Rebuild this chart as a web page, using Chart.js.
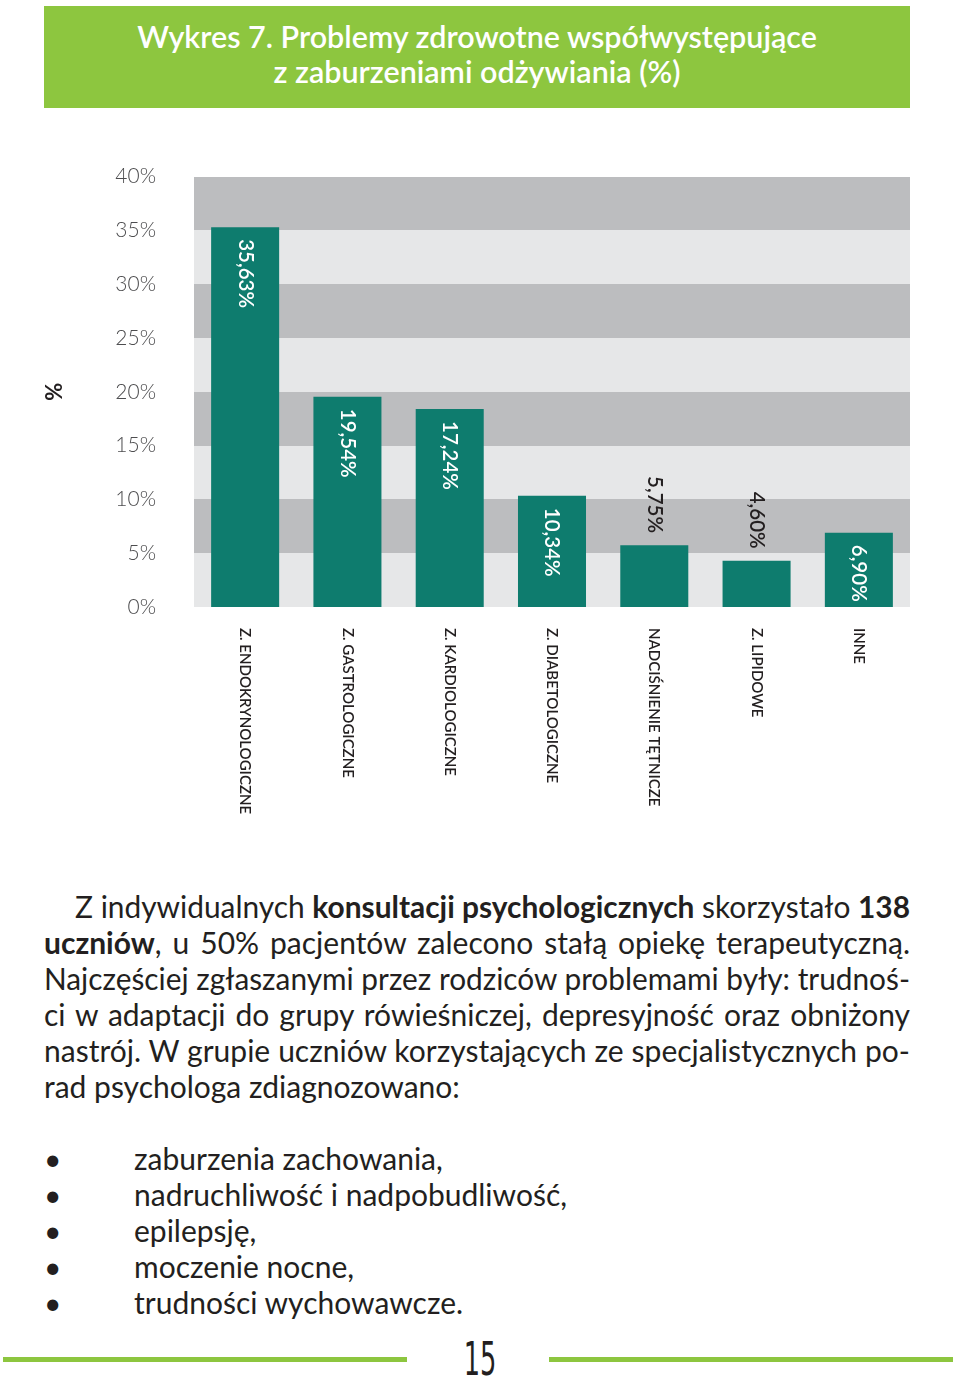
<!DOCTYPE html>
<html>
<head>
<meta charset="utf-8">
<script src="https://cdn.jsdelivr.net/npm/chart.js@4/dist/chart.umd.min.js"></script>
<style>
html,body{margin:0;padding:0;background:#fff;width:960px;height:1378px;overflow:hidden;font-family:Lato,sans-serif;color:#231f20}
#titlebox{position:absolute;left:44px;top:6px;width:866px;height:102px;background:#8dc63f;color:#fff;text-align:center;font-size:30.5px;font-weight:600;line-height:35px;box-sizing:border-box;padding-top:13px}
#chart{position:absolute;left:0;top:126px}
.pl{position:absolute;left:44px;width:866px;font-size:30px;line-height:36px;white-space:nowrap;text-align:justify;text-align-last:justify}
.pl.last{text-align-last:left}
.pl b{font-weight:700}
.bl{position:absolute;left:44px;font-size:30px;line-height:36px;white-space:nowrap}
.bl span.dot{position:absolute;left:0}
.bl span.txt{position:absolute;left:90px}
.gl{position:absolute;height:5px;background:#8dc63f;top:1357px}
#pg{position:absolute;left:440px;width:80px;top:1336px;text-align:center;font-family:'Liberation Sans Narrow','DejaVu Sans Condensed',sans-serif;font-size:46px;line-height:46px;transform:scaleX(0.62);color:#231f20}
</style>
</head>
<body>
<div id="titlebox">Wykres 7. Problemy zdrowotne współwystępujące<br>z zaburzeniami odżywiania (%)</div>
<canvas id="chart" width="960" height="704"></canvas>

<div class="pl" style="top:888px;left:75px;width:835px">Z indywidualnych <b>konsultacji psychologicznych</b> skorzystało <b>138</b></div>
<div class="pl" style="top:924px"><b>uczniów</b>, u 50% pacjentów zalecono stałą opiekę terapeutyczną.</div>
<div class="pl" style="top:960px">Najczęściej zgłaszanymi przez rodziców problemami były: trudnoś-</div>
<div class="pl" style="top:996px">ci w adaptacji do grupy rówieśniczej, depresyjność oraz obniżony</div>
<div class="pl" style="top:1032px">nastrój. W grupie uczniów korzystających ze specjalistycznych po-</div>
<div class="pl last" style="top:1068px">rad psychologa zdiagnozowano:</div>

<div class="bl" style="top:1140px"><span class="dot">•</span><span class="txt">zaburzenia zachowania,</span></div>
<div class="bl" style="top:1176px"><span class="dot">•</span><span class="txt">nadruchliwość i nadpobudliwość,</span></div>
<div class="bl" style="top:1212px"><span class="dot">•</span><span class="txt">epilepsję,</span></div>
<div class="bl" style="top:1248px"><span class="dot">•</span><span class="txt">moczenie nocne,</span></div>
<div class="bl" style="top:1284px"><span class="dot">•</span><span class="txt">trudności wychowawcze.</span></div>

<div class="gl" style="left:3px;width:404px"></div>
<div class="gl" style="left:549px;width:404px"></div>
<div id="pg">15</div>

<script>
const categories = ['Z. ENDOKRYNOLOGICZNE', 'Z. GASTROLOGICZNE', 'Z. KARDIOLOGICZNE', 'Z. DIABETOLOGICZNE', 'NADCIŚNIENIE TĘTNICZE', 'Z. LIPIDOWE', 'INNE'];
const barHeights = [35.3, 19.54, 18.4, 10.34, 5.75, 4.3, 6.9];
const valueLabels = ['35,63%', '19,54%', '17,24%', '10,34%', '5,75%', '4,60%', '6,90%'];
const yTicks = [0, 5, 10, 15, 20, 25, 30, 35, 40];

const BAR = '#0e7c6e', GRAY = '#bcbdbf', LIGHT = '#e6e7e8';

// fit justified lines that are too wide
document.querySelectorAll('.pl').forEach(el => {
  const w = el.clientWidth;
  const r = document.createRange(); r.selectNodeContents(el);
  const tw = r.getBoundingClientRect().width;
  if (tw > w) { el.style.transformOrigin = 'left center'; el.style.transform = 'scaleX(' + (w / tw) + ')'; el.style.textAlignLast = 'left'; }
});

const bandPlugin = {
  id: 'bands',
  beforeDatasetsDraw(chart) {
    const { ctx, chartArea: a, scales: { y } } = chart;
    ctx.save();
    for (let i = 0; i < yTicks.length - 1; i++) {
      const top = Math.round(y.getPixelForValue(yTicks[i + 1]));
      const bot = Math.round(y.getPixelForValue(yTicks[i]));
      ctx.fillStyle = i % 2 ? GRAY : LIGHT;
      ctx.fillRect(a.left, top, a.right - a.left, bot - top);
    }
    ctx.restore();
  }
};

const labelPlugin = {
  id: 'labels',
  afterDatasetsDraw(chart) {
    const { ctx, chartArea: a, scales: { x } } = chart;
    const meta = chart.getDatasetMeta(0);
    ctx.save();
    ctx.font = '600 20.5px Lato';
    ctx.textBaseline = 'middle';
    meta.data.forEach((bar, i) => {
      const txt = valueLabels[i];
      const tw = ctx.measureText(txt).width;
      const h = bar.base - bar.y;
      const inside = h >= tw + 14;
      ctx.save();
      ctx.translate(bar.x, inside ? bar.y + 12 : bar.y - 12 - tw);
      ctx.rotate(Math.PI / 2);
      ctx.fillStyle = inside ? '#ffffff' : '#231f20';
      ctx.textAlign = 'left';
      ctx.fillText(txt, 0, 0);
      ctx.restore();
    });
    // category labels
    ctx.font = '600 15px Lato';
    ctx.fillStyle = '#231f20';
    categories.forEach((c, i) => {
      ctx.save();
      ctx.translate(x.getPixelForValue(i), a.bottom + 21);
      ctx.rotate(Math.PI / 2);
      ctx.textAlign = 'left';
      ctx.fillText(c, 0, 0);
      ctx.restore();
    });
    ctx.restore();
  }
};

new Chart(document.getElementById('chart'), {
  type: 'bar',
  data: {
    labels: categories,
    datasets: [{ data: barHeights, backgroundColor: BAR, borderWidth: 0, barPercentage: 0.665, categoryPercentage: 1 }]
  },
  options: {
    responsive: false,
    animation: false,
    devicePixelRatio: 1,
    layout: { padding: { left: 0, right: 50, top: 2, bottom: 0 } },
    plugins: { legend: { display: false }, tooltip: { enabled: false } },
    scales: {
      x: {
        grid: { display: false, drawTicks: false },
        border: { display: false },
        ticks: { display: false },
        afterFit(s) { s.height = 223; }
      },
      y: {
        min: 0, max: 40,
        afterBuildTicks(s) { s.ticks = yTicks.map(v => ({ value: v })); },
        ticks: { padding: 38, color: '#4d4d4f', font: { family: 'Lato', size: 21, weight: '300' }, callback: v => v + '%' },
        grid: { display: false, drawTicks: false },
        border: { display: false },
        title: { display: true, text: '%', color: '#231f20', font: { family: 'Lato', size: 22, weight: 'bold' }, padding: { top: 42, bottom: 0 } },
        afterFit(s) { s.width = 194; }
      }
    }
  },
  plugins: [bandPlugin, labelPlugin]
});
</script>
</body>
</html>
